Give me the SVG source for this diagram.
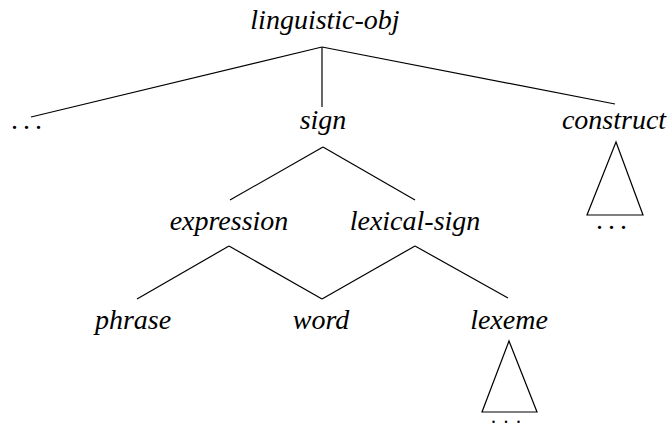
<svg xmlns="http://www.w3.org/2000/svg" width="670" height="428" viewBox="0 0 670 428">
<rect width="670" height="428" fill="#fff"/>
<g id="connectors" stroke="#000" stroke-width="1.2" fill="none">
<line x1="322" y1="47" x2="31" y2="117"/>
<line x1="322" y1="47" x2="322" y2="107"/>
<line x1="322" y1="47" x2="615" y2="104"/>
<line x1="323" y1="147" x2="230" y2="200"/>
<line x1="323" y1="147" x2="415" y2="200"/>
<line x1="229" y1="246" x2="137" y2="299"/>
<line x1="229" y1="246" x2="322" y2="299"/>
<line x1="415" y1="246" x2="322" y2="299"/>
<line x1="415" y1="246" x2="508" y2="298"/>
</g>
<g stroke="#000" stroke-width="1.2" fill="none">
<polygon id="construct-triangle" points="616,142 587,215 643,215"/>
<polygon id="lexeme-triangle" points="509,341 482,412 537,412"/>
</g>
<g font-family="Liberation Serif" font-size="28" font-style="italic" text-anchor="middle" fill="#000">
<g id="linguistic-obj"><text x="325" y="29">linguistic-obj</text></g>
<g id="sign"><text x="323" y="129">sign</text></g>
<g id="construct"><text x="614" y="129">construct</text></g>
<g id="expression"><text x="229" y="230">expression</text></g>
<g id="lexical-sign"><text x="415" y="230">lexical-sign</text></g>
<g id="phrase"><text x="133" y="329">phrase</text></g>
<g id="word"><text x="321" y="329">word</text></g>
<g id="lexeme"><text x="509" y="329">lexeme</text></g>
</g>
<g font-family="Liberation Serif" fill="#000">
<g id="ellipsis-left"><text x="11" y="129" font-size="28" letter-spacing="5">...</text></g>
<g id="construct-dots"><text x="596" y="229" font-size="28" letter-spacing="5">...</text></g>
<g id="lexeme-dots"><text x="491" y="423" font-size="20" letter-spacing="7.5">...</text></g>
</g>
</svg>
